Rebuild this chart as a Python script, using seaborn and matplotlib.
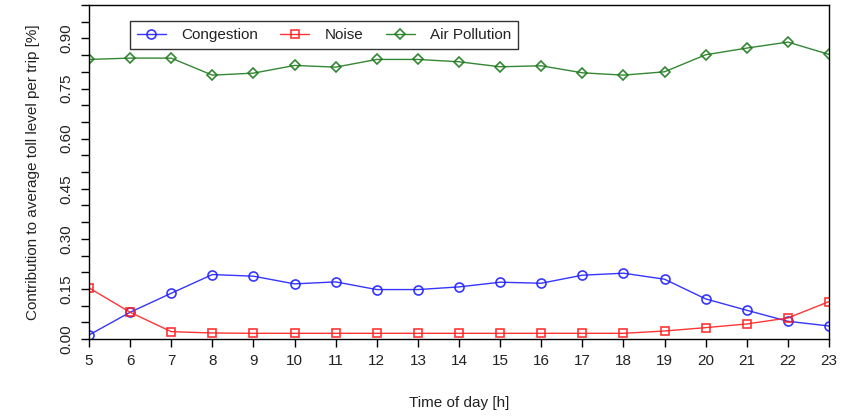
import numpy as np
import pandas as pd
import matplotlib
matplotlib.use("Agg")
import matplotlib.pyplot as plt
import seaborn as sns
from matplotlib.ticker import MultipleLocator, FixedLocator

hours = list(range(5, 24))
congestion = [0.012, 0.080, 0.137, 0.193, 0.188, 0.165, 0.171, 0.148, 0.148, 0.156,
              0.170, 0.167, 0.191, 0.197, 0.179, 0.120, 0.086, 0.053, 0.039]
noise = [0.153, 0.080, 0.022, 0.018, 0.017, 0.017, 0.017, 0.017, 0.017, 0.017,
         0.017, 0.017, 0.017, 0.017, 0.024, 0.034, 0.045, 0.063, 0.112]
air_pollution = [0.837, 0.841, 0.841, 0.790, 0.796, 0.819, 0.814, 0.837, 0.837, 0.830,
                 0.815, 0.818, 0.797, 0.790, 0.800, 0.851, 0.871, 0.889, 0.852]

series_names = ["Congestion", "Noise", "Air Pollution"]
series_colors = ["#2020ff", "#ff2020", "#1e7a1e"]
series_markers = ["o", "s", "D"]

sns.set_style("white")
plt.rcParams['font.family'] = ['Liberation Sans', 'DejaVu Sans']

fig = plt.figure(figsize=(8.52, 4.16), dpi=100)
ax = fig.add_axes([89/852, 77/416, 740/852, 334/416])

df = pd.DataFrame({"hour": hours * 3,
                   "value": congestion + noise + air_pollution,
                   "series": sum([[n] * len(hours) for n in series_names], [])})

for name, col, mk, msz in zip(series_names, series_colors, series_markers, [6.5, 6, 5]):
    sub = df[df["series"] == name]
    sns.lineplot(data=sub, x="hour", y="value", ax=ax, color=col, marker=mk,
                 markersize=msz, markerfacecolor="none", markeredgecolor=col,
                 markeredgewidth=1.2, linewidth=1.0, label=name, alpha=0.9)

ax.set_xlim(5, 23)
ax.set_ylim(0, 1.0)
ax.xaxis.set_major_locator(FixedLocator(hours))
ax.yaxis.set_major_locator(FixedLocator([0, 0.15, 0.30, 0.45, 0.60, 0.75, 0.90]))
ax.yaxis.set_minor_locator(MultipleLocator(0.05))
ax.set_yticklabels(["0.00", "0.15", "0.30", "0.45", "0.60", "0.75", "0.90"],
                   rotation=90, va="center")
ax.tick_params(axis="both", which="both", direction="out", length=6, width=1,
               color="black", labelsize=11, labelcolor="#222222", pad=5,
               left=True, bottom=True)
ax.tick_params(axis="y", which="minor", length=6)
for s in ax.spines.values():
    s.set_visible(True)
    s.set_color("black")
    s.set_linewidth(1.0)

ax.set_xlabel("Time of day [h]", fontsize=11, color="#222222", labelpad=20)
ax.set_ylabel("Contribution to average toll level per trip [%]", fontsize=11,
              color="#222222", labelpad=14)

leg = ax.legend(loc="lower left", bbox_to_anchor=(0.0554, 0.868, 0.5243, 0.111),
                mode="expand", ncol=3, frameon=True, fancybox=False, fontsize=11,
                handlelength=1.9, handletextpad=1.0, borderaxespad=0,
                borderpad=0.45, edgecolor="black")
leg.get_frame().set_linewidth(1.0)
for t in leg.get_texts():
    t.set_color("#222222")

fig.savefig("out.png", dpi=100, facecolor="white")
